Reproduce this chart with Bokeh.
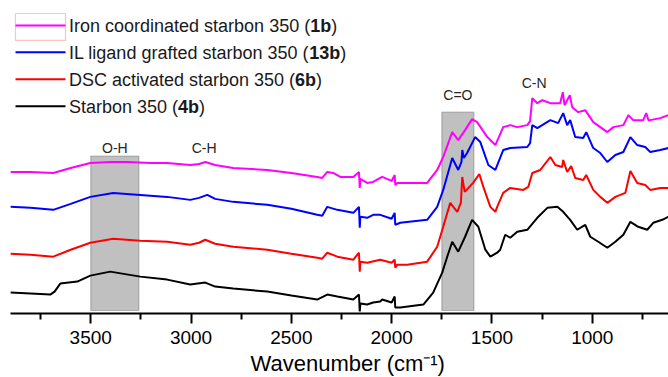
from bokeh.plotting import figure
from bokeh.models import Range1d, FixedTicker, BoxAnnotation, ColumnDataSource, Title
from bokeh.core.properties import value
from bokeh.embed import file_html
from bokeh.resources import INLINE

# ---------------- data ----------------
iron_wn = [3901, 3800, 3687, 3600, 3502, 3400, 3318, 3200, 3119, 3004, 2960, 2929, 2880,
           2790, 2620, 2500, 2371, 2346, 2321, 2291, 2256, 2191, 2163, 2159, 2156, 2122,
           2092, 2057, 2047, 2000, 1985, 1982, 1972, 1922, 1823, 1773, 1743, 1698, 1668,
           1634, 1599, 1574, 1523, 1483, 1444, 1409, 1374, 1324, 1310, 1299, 1274, 1249,
           1209, 1160, 1147, 1138, 1112, 1100, 1070, 1035, 995, 960, 925, 895, 845, 820,
           796, 746, 731, 720, 711, 661, 621]
iron_t = [146, 146, 145, 150, 155, 156, 156, 155, 155, 153, 154, 156, 153,
          150, 148, 145, 141, 140, 146, 145, 141, 141, 146, 130, 139, 135,
          136, 140, 141, 137, 143, 133, 135, 135, 135, 148, 161, 186, 178,
          188, 199, 196, 181, 173, 191, 193, 191, 193, 197, 220, 215, 218,
          215, 215, 226, 213, 223, 211, 206, 208, 196, 191, 186, 191, 193, 203,
          198, 198, 205, 198, 198, 200, 203]

il_wn = [3901, 3800, 3687, 3600, 3502, 3388, 3253, 3119, 3004, 2960, 2919, 2880, 2790,
         2620, 2500, 2371, 2346, 2321, 2271, 2191, 2163, 2159, 2156, 2122, 2092, 2057,
         2000, 1985, 1982, 1957, 1823, 1773, 1743, 1698, 1668, 1652, 1648, 1640, 1624,
         1584, 1558, 1518, 1483, 1444, 1409, 1324, 1310, 1299, 1274, 1209, 1170, 1145,
         1125, 1110, 1085, 1045, 1030, 995, 960, 925, 885, 845, 810, 776, 736, 711,
         661, 621]
il_t = [111, 110, 108, 114, 121, 125, 123, 121, 118, 120, 123, 119, 116,
        113, 109, 103, 102, 111, 108, 105, 111, 90, 101, 100, 103, 103,
        99, 105, 93, 95, 98, 111, 128, 160, 148, 156, 168, 160, 165,
        181, 176, 153, 148, 168, 170, 171, 175, 193, 190, 198, 195, 205,
        193, 198, 181, 180, 186, 170, 165, 156, 163, 166, 181, 173, 171, 166,
        168, 170]

dsc_wn = [3901, 3800, 3687, 3600, 3502, 3388, 3253, 3119, 3004, 2960, 2929, 2880, 2790,
          2620, 2500, 2371, 2346, 2321, 2271, 2191, 2163, 2159, 2156, 2122, 2057, 2000,
          1985, 1982, 1972, 1922, 1823, 1773, 1743, 1708, 1673, 1655, 1648, 1636, 1594,
          1563, 1543, 1508, 1483, 1474, 1444, 1409, 1344, 1319, 1299, 1259, 1209, 1184,
          1150, 1145, 1125, 1105, 1085, 1045, 1030, 995, 960, 925, 885, 835, 810, 776,
          736, 711, 661, 621]
dsc_t = [64, 63, 61, 68, 75, 79, 77, 76, 73, 75, 78, 74, 71,
         68, 64, 60, 59, 65, 61, 58, 65, 46, 56, 55, 58, 55,
         58, 50, 53, 53, 56, 71, 91, 115, 106, 115, 141, 126, 135,
         144, 131, 111, 106, 111, 125, 130, 128, 131, 145, 148, 161, 153,
         151, 158, 146, 152, 140, 138, 143, 128, 121, 115, 121, 125, 147, 135,
         133, 128, 130, 130]

starbon_wn = [3901, 3800, 3702, 3680, 3652, 3567, 3502, 3403, 3253, 3119, 3004, 2929,
              2880, 2790, 2620, 2500, 2371, 2321, 2271, 2191, 2163, 2159, 2156, 2122,
              2092, 2057, 2047, 2000, 1985, 1982, 1957, 1842, 1793, 1748, 1723, 1698,
              1668, 1634, 1599, 1568, 1533, 1508, 1474, 1459, 1434, 1409, 1374, 1324,
              1274, 1224, 1174, 1145, 1110, 1075, 1035, 1010, 970, 925, 885, 845, 810,
              771, 726, 696, 651, 621]
starbon_t = [25, 24, 23, 26, 34, 36, 42, 46, 41, 38, 33, 35,
             31, 29, 26, 22, 18, 23, 21, 18, 23, 6, 14, 13,
             15, 16, 18, 15, 21, 10, 10, 13, 25, 45, 61, 76,
             66, 81, 98, 91, 68, 61, 65, 68, 83, 80, 86, 88,
             100, 110, 111, 106, 98, 88, 93, 81, 76, 70, 76, 83, 96,
             91, 88, 95, 98, 101]

series_labels = ["Iron coordinated starbon 350 (1b)",
                 "IL ligand grafted starbon 350 (13b)",
                 "DSC activated starbon 350 (6b)",
                 "Starbon 350 (4b)"]

band_left = [3500, 1750]
band_right = [3260, 1590]
band_top = [162, 206]

peak_names = ["O-H", "C-H", "C=O", "C-N"]
peak_wn = [3380, 2935, 1670, 1290]

tick_values = [3500, 3000, 2500, 2000, 1500, 1000]
minor_values = [3750, 3250, 2750, 2250, 1750, 1250, 750]
x_title = "Wavenumber (cm\u207b\u00b9)"

# ---------------- figure ----------------
W, H = 668, 377
B_LEFT, B_TOP, B_BOTTOM = 10, 7, 63
X0, X1 = 3900, 620
Y0, Y1 = 4, 311

p = figure(width=W, height=H, x_range=Range1d(X0, X1), y_range=Range1d(Y0, Y1),
           output_backend="svg", toolbar_location=None, y_axis_location=None,
           min_border_left=B_LEFT, min_border_right=0, min_border_top=B_TOP,
           min_border_bottom=B_BOTTOM, background_fill_color="white",
           border_fill_color="white")
p.outline_line_color = None
p.xgrid.visible = False
p.ygrid.visible = False

FONT = "Liberation Sans"

fw = W - B_LEFT
fh = H - B_TOP - B_BOTTOM
def px_to_x(px):
    return X0 + (px - B_LEFT) * (X1 - X0) / fw
def py_to_y(py):
    return Y1 - (py - B_TOP) * (Y1 - Y0) / fh

for l, r, t in zip(band_left, band_right, band_top):
    p.add_layout(BoxAnnotation(left=l, right=r, bottom=7, top=t, fill_color="#c0c0c0",
                               fill_alpha=1.0, line_color="#3a3a3a", line_width=1.2,
                               level="underlay"))

colors = ["#ff00ff", "#0000ff", "#ff0000", "#000000"]
datasets = [(iron_wn, iron_t), (il_wn, il_t), (dsc_wn, dsc_t), (starbon_wn, starbon_t)]
for (xs, ys), c in zip(datasets, colors):
    p.line(xs, ys, line_color=c, line_width=2)

# peak annotations
peak_y = [170, 170, 223, 235]
src = ColumnDataSource(dict(x=peak_wn, y=peak_y, t=peak_names))
p.text(x="x", y="y", text="t", source=src, text_font=value(FONT),
       text_font_size="14px", text_align="center", text_baseline="middle",
       text_color="#262626")

# axis
ax = p.xaxis[0]
ax.ticker = FixedTicker(ticks=tick_values, minor_ticks=minor_values)
ax.axis_line_width = 2
ax.axis_line_color = "black"
ax.major_tick_line_width = 2
ax.minor_tick_line_width = 2
ax.major_tick_out = 10
ax.major_tick_in = 0
ax.minor_tick_out = 6
ax.minor_tick_in = 0
ax.major_label_text_font = FONT
ax.major_label_text_font_size = "19px"
ax.major_label_text_color = "black"
ax.major_label_standoff = 7

# axis title as a Title below the axis, placed like the reference
ttl = Title(text=x_title, align="left", offset=240, text_font=FONT,
            text_font_size="22px", text_font_style="normal", text_color="black",
            standoff=4)
p.add_layout(ttl, "below")

# ---------------- legend (drawn by hand so the sample ids can be bold) ----------------
ARIAL = {' ': 278, '(': 333, ')': 333, 'I': 278, 'L': 556, 'D': 722, 'S': 667, 'C': 722,
         'a': 556, 'b': 556, 'c': 500, 'd': 556, 'e': 556, 'f': 278, 'g': 556, 'i': 222,
         'l': 222, 'n': 556, 'o': 556, 'r': 333, 's': 500, 't': 278, 'v': 500}
ARIAL_BOLD = {'b': 611}
def text_w(s, size, bold=False):
    tot = 0
    for ch in s:
        if ch.isdigit():
            tot += 556
        elif bold and ch in ARIAL_BOLD:
            tot += ARIAL_BOLD[ch]
        else:
            tot += ARIAL.get(ch, 556)
    return tot * size / 1000.0

LEG_SIZE = 18
LEG_X0, LEG_X1, LEG_TXT = 15, 65, 68.5
LEG_ROW0, LEG_DY = 25, 27
pre_x, pre_y, pre_t = [], [], []
bold_x, bold_y, bold_t = [], [], []
suf_x, suf_y, suf_t = [], [], []
for i, (lab, c) in enumerate(zip(series_labels, colors)):
    row = LEG_ROW0 + i * LEG_DY
    yy = py_to_y(row)
    p.line([px_to_x(LEG_X0), px_to_x(LEG_X1)], [yy, yy], line_color=c, line_width=2)
    k = lab.rindex("(") + 1
    prefix, bold, suffix = lab[:k], lab[k:-1], lab[-1:]
    bx = LEG_TXT + text_w(prefix, LEG_SIZE)
    sx = bx + text_w(bold, LEG_SIZE, bold=True)
    ty = py_to_y(row + 1)
    pre_x.append(px_to_x(LEG_TXT)); pre_y.append(ty); pre_t.append(prefix)
    bold_x.append(px_to_x(bx)); bold_y.append(ty); bold_t.append(bold)
    suf_x.append(px_to_x(sx)); suf_y.append(ty); suf_t.append(suffix)

for xs, ys, ts, style in [(pre_x, pre_y, pre_t, "normal"), (bold_x, bold_y, bold_t, "bold"),
                          (suf_x, suf_y, suf_t, "normal")]:
    p.text(x=xs, y=ys, text=ts, text_font=value(FONT), text_font_size=f"{LEG_SIZE}px",
           text_font_style=style, text_align="left", text_baseline="middle",
           text_color="#1a1a1a")

# highlight frame around the first legend sample
p.add_layout(BoxAnnotation(left=px_to_x(15), right=px_to_x(65), top=py_to_y(13),
                           bottom=py_to_y(40), fill_alpha=0, line_color="#ff3030",
                           line_width=1.2))

open("out.html", "w").write(file_html(p, INLINE))
